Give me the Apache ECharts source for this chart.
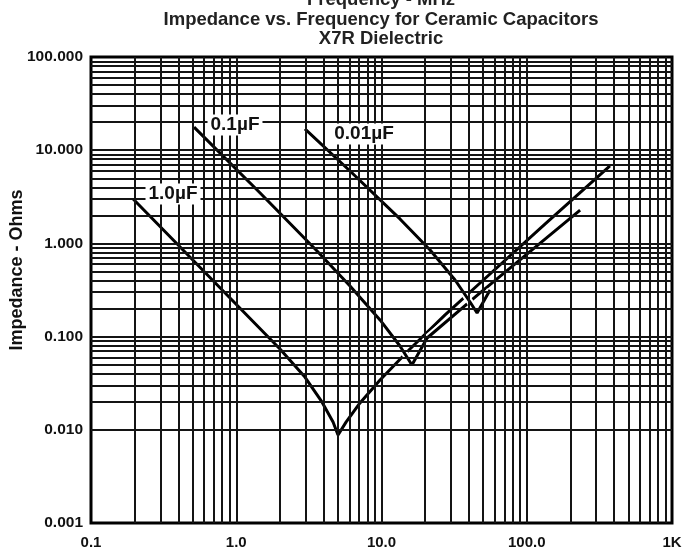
<!DOCTYPE html>
<html>
<head>
<meta charset="utf-8">
<script src="https://cdn.jsdelivr.net/npm/echarts@6/dist/echarts.min.js"></script>
<style>
  html, body { margin: 0; padding: 0; background: #ffffff; }
  #chart { width: 691px; height: 556px; }
</style>
</head>
<body>
<div id="chart"></div>
<script>
// frequency in MHz, impedance in Ohms
const freq1uF = [0.195, 0.906, 2.0, 2.97, 3.89, 4.64, 5.02, 5.70, 7.11, 9.77, 15.7, 27.4, 47.7, 134, 374];
const imp1uF  = [3.0, 0.26, 0.0736, 0.0368, 0.0199, 0.0121, 0.0088, 0.0121, 0.0194, 0.0342, 0.0736, 0.171, 0.376, 1.62, 6.77];

const freq01uF = [0.512, 1.46, 3.60, 6.07, 9.77, 13.4, 16.2, 20.6, 47.7, 233];
const imp01uF  = [17.7, 3.47, 0.829, 0.349, 0.151, 0.0793, 0.0496, 0.0966, 0.294, 2.28];

const freq001uF = [2.97, 6.07, 13.4, 21.6, 32.1, 40.7, 45.5, 55.9];
const imp001uF  = [16.9, 5.98, 1.83, 0.85, 0.405, 0.235, 0.179, 0.316];

const curveNames = ['1.0µF', '0.1µF', '0.01µF'];

const xTickValues = [0.1, 1, 10, 100, 1000];
const xTickLabels = ['0.1', '1.0', '10.0', '100.0', '1K'];
const yTickValues = [0.001, 0.01, 0.1, 1, 10, 100];
const yTickLabels = ['0.001', '0.010', '0.100', '1.000', '10.000', '100.000'];

// log grid: 1..9 in every decade
const gridX = [];
for (let d = 0.1; d < 1000; d *= 10) for (let k = 1; k <= 9; k++) gridX.push(+(d * k).toPrecision(3));
const gridY = [];
for (let d = 0.001; d < 100; d *= 10) for (let k = 1; k <= 9; k++) gridY.push(+(d * k).toPrecision(3));

const pairs = (xs, ys) => xs.map((x, i) => [x, ys[i]]);
const curves = [pairs(freq1uF, imp1uF), pairs(freq01uF, imp01uF), pairs(freq001uF, imp001uF)];

function pickLabel(values, labels, v) {
  for (let i = 0; i < values.length; i++) {
    if (Math.abs(Math.log10(v) - Math.log10(values[i])) < 1e-6) return labels[i];
  }
  return '';
}

const font = 'Liberation Sans, Arial, sans-serif';

const series = [{
  type: 'line',
  data: [],
  silent: true,
  markLine: {
    silent: true,
    symbol: ['none', 'none'],
    label: { show: false },
    animation: false,
    lineStyle: { color: '#141414', width: 2, type: 'solid' },
    data: gridX.filter(v => v > 0.1).map(v => ({ xAxis: v }))
      .concat(gridY.filter(v => v > 0.001).map(v => ({ yAxis: v })))
  }
}];

curves.forEach((c, i) => {
  series.push({
    name: curveNames[i] + ' halo',
    type: 'line',
    data: c,
    showSymbol: false,
    lineStyle: { color: '#ffffff', width: 7 },
    silent: true
  });
  series.push({
    name: curveNames[i],
    type: 'line',
    data: c,
    showSymbol: false,
    lineStyle: { color: '#000000', width: 3 },
    silent: true
  });
});

const labelStyle = { fontFamily: font, fontWeight: 'bold', fontSize: 19, fill: '#111',
  align: 'center', verticalAlign: 'middle', backgroundColor: '#fff', padding: [1, 3] };
const titleStyle = { fontFamily: font, fontWeight: 'bold', fontSize: 18.5, fill: '#222', align: 'center', verticalAlign: 'middle' };

const option = {
  animation: false,
  backgroundColor: '#ffffff',
  grid: { left: 91, right: 19, top: 57, bottom: 33, show: true, borderColor: '#000', borderWidth: 3 },
  xAxis: {
    type: 'log', logBase: 10, min: 0.1, max: 1000,
    axisLine: { show: false }, axisTick: { show: false }, splitLine: { show: false },
    axisLabel: {
      margin: 12, color: '#111', fontFamily: font, fontWeight: 'bold', fontSize: 15,
      formatter: v => pickLabel(xTickValues, xTickLabels, v)
    }
  },
  yAxis: {
    type: 'log', logBase: 10, min: 0.001, max: 100,
    axisLine: { show: false }, axisTick: { show: false }, splitLine: { show: false },
    axisLabel: {
      margin: 8, color: '#111', fontFamily: font, fontWeight: 'bold', fontSize: 15.5,
      formatter: v => pickLabel(yTickValues, yTickLabels, v)
    }
  },
  graphic: [
    { type: 'text', x: 381, y: 0, style: Object.assign({ text: 'Frequency - MHz' }, titleStyle) },
    { type: 'text', x: 381, y: 20, style: Object.assign({ text: 'Impedance vs. Frequency for Ceramic Capacitors' }, titleStyle) },
    { type: 'text', x: 381, y: 39, style: Object.assign({ text: 'X7R Dielectric' }, titleStyle) },
    { type: 'text', x: 17, y: 270, rotation: Math.PI / 2, style: { text: 'Impedance - Ohms', fontFamily: font, fontWeight: 'bold', fontSize: 18, fill: '#111', align: 'center', verticalAlign: 'middle' } },
    { type: 'text', x: 173, y: 194, z: 10, style: Object.assign({ text: curveNames[0] }, labelStyle) },
    { type: 'text', x: 235, y: 125, z: 10, style: Object.assign({ text: curveNames[1] }, labelStyle) },
    { type: 'text', x: 364, y: 134, z: 10, style: Object.assign({ text: curveNames[2] }, labelStyle) }
  ],
  series: series
};

const chart = echarts.init(document.getElementById('chart'));
chart.setOption(option);
</script>
</body>
</html>
